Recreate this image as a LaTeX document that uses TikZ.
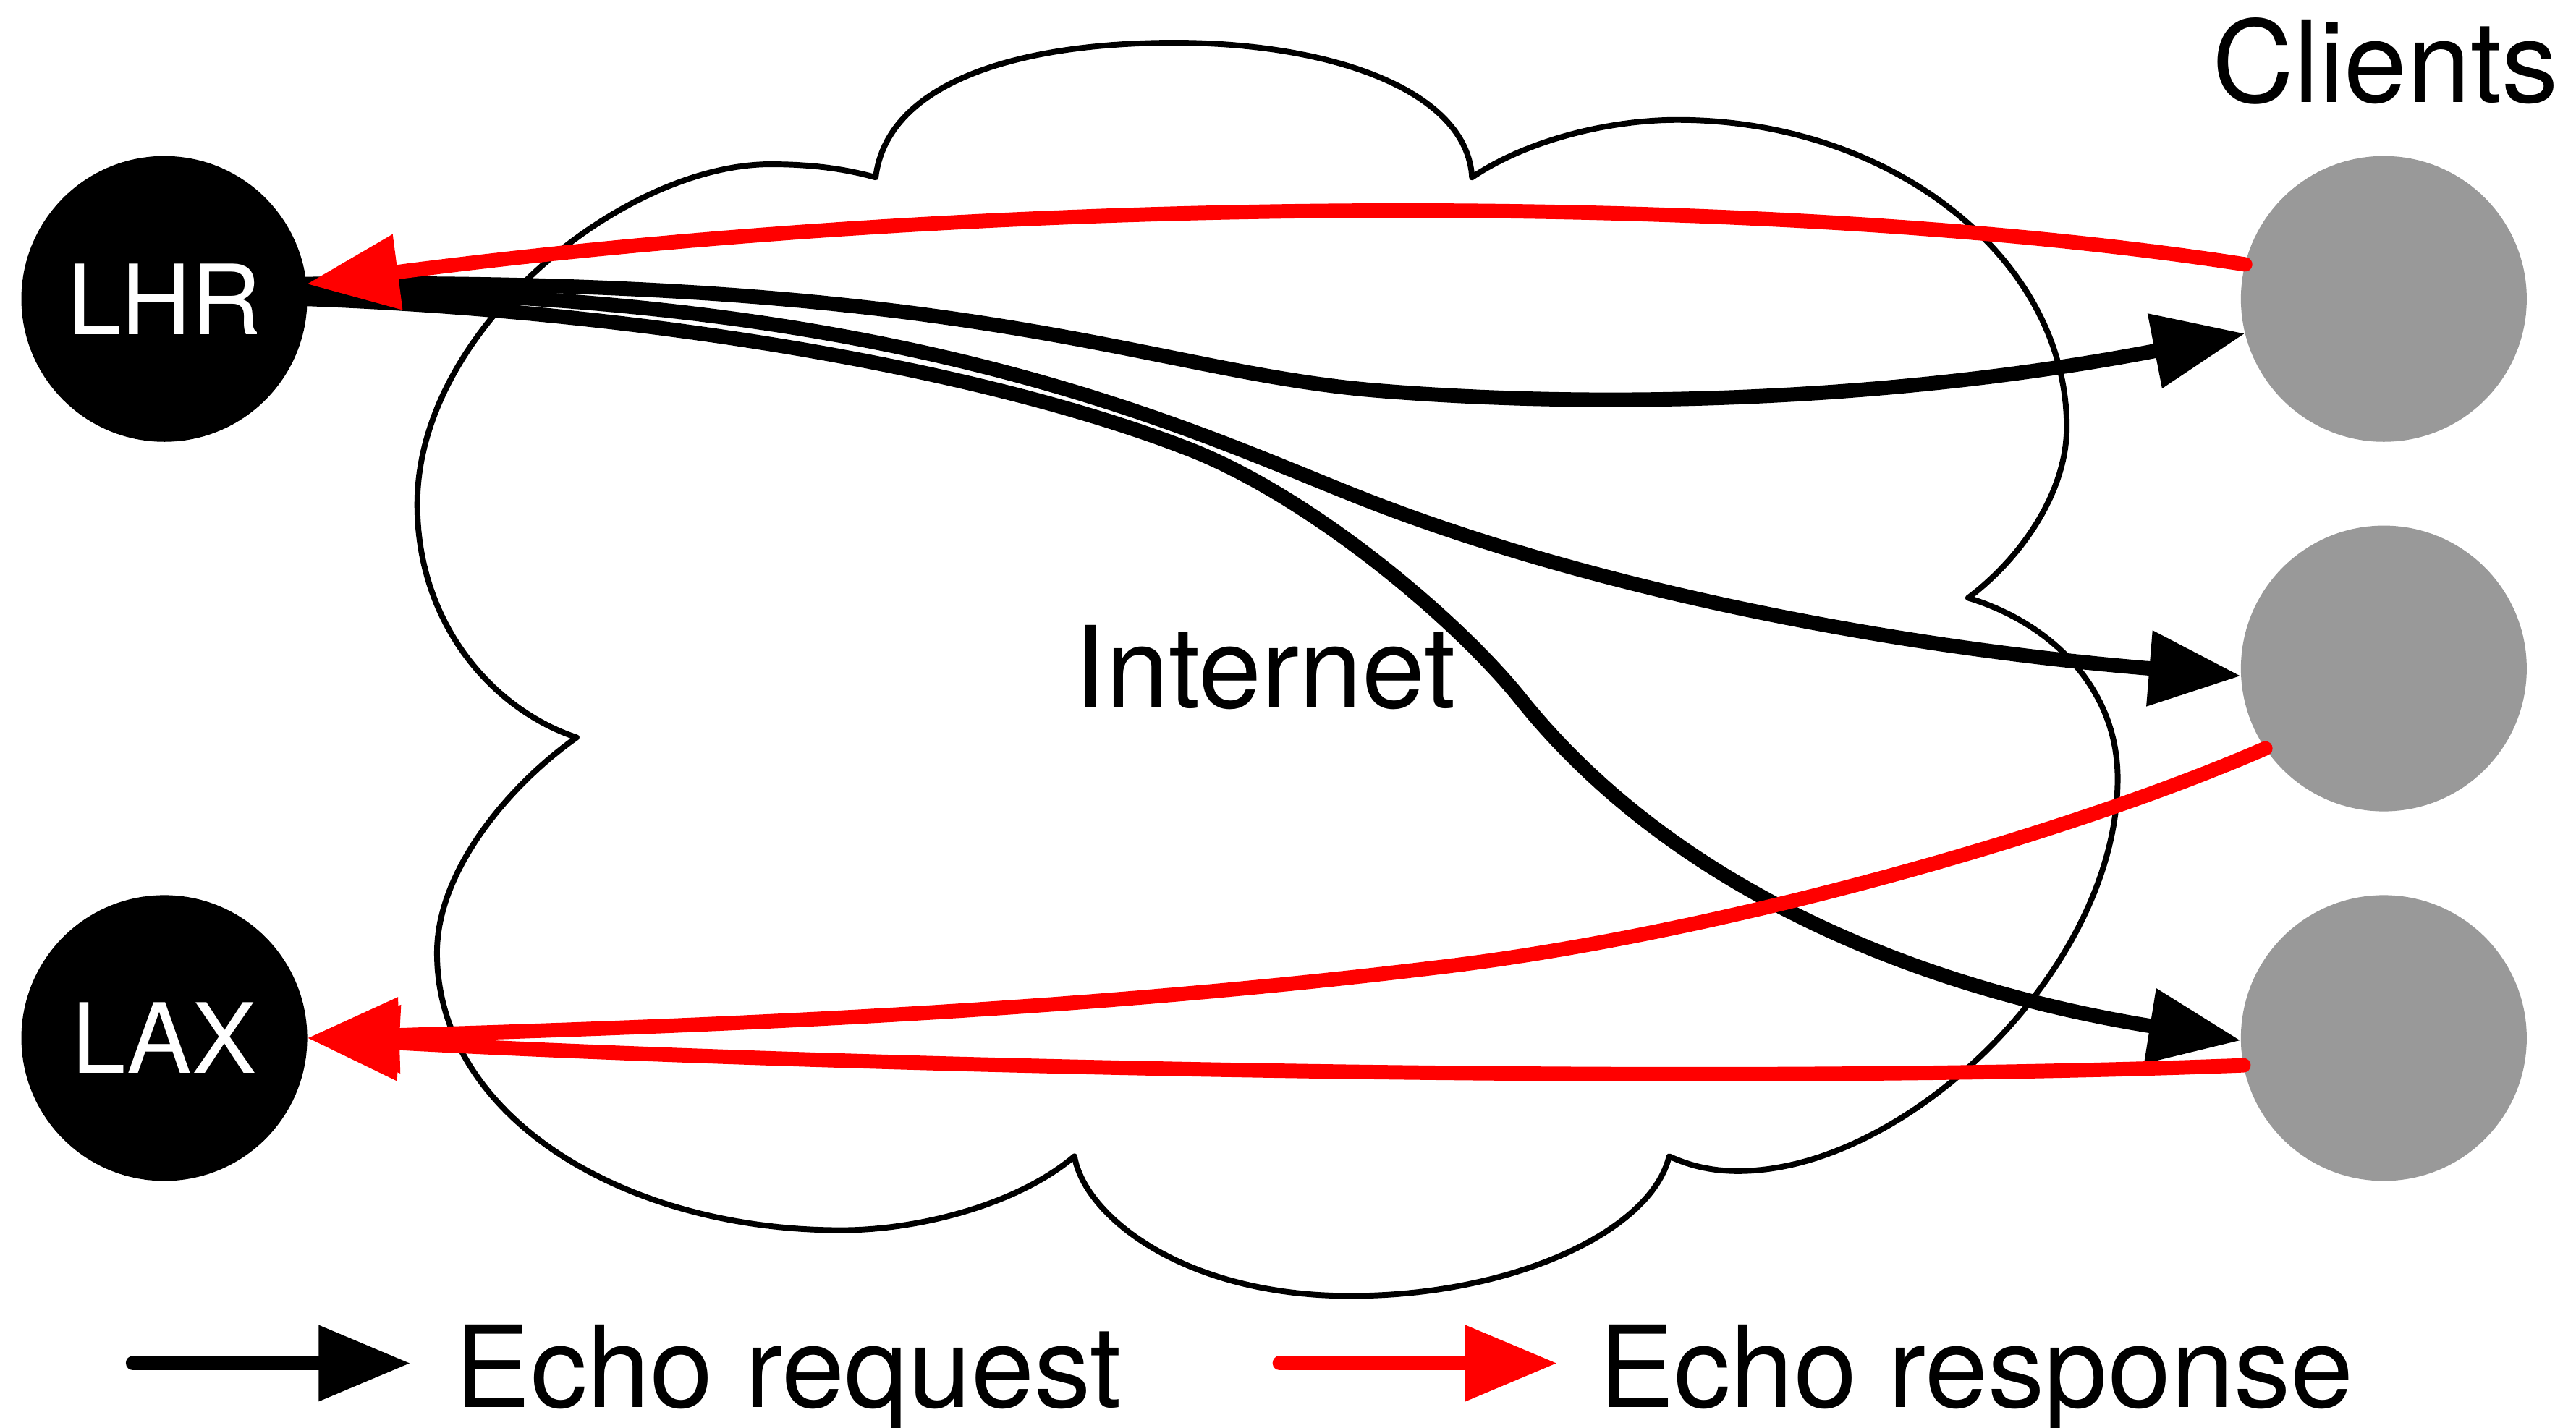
\documentclass[tikz,border=0pt]{standalone}
\usepackage{fontspec}
\setmainfont{TeX Gyre Heros}
\usetikzlibrary{arrows.meta}
\definecolor{clientgrey}{RGB}{153,153,153}
\definecolor{respred}{RGB}{255,0,0}
\begin{document}
\begin{tikzpicture}[x=0.5pt,y=-0.5pt,
  site/.style={circle, fill=black, minimum size=87pt, inner sep=0pt, outer sep=0pt,
    text=white, font=\fontsize{29.5}{31}\selectfont},
  client/.style={circle, fill=clientgrey, minimum size=87pt, inner sep=0pt, outer sep=0pt},
  txt/.style={inner sep=0pt, outer sep=0pt, font=\fontsize{34.5}{40}\selectfont},
  cloudline/.style={line width=1.75pt, line join=round},
  req/.style={line width=4.4pt, line cap=round, line join=round,
    -{Triangle[length=28pt,width=22pt]}},
  resp/.style={req, respred},
]
\useasboundingbox (0,0) rectangle (1568,869);

% cloud
\draw[cloudline] (533,108)
  .. controls (540,50) and (620,26) .. (715,26)
  .. controls (810,26) and (893,55) .. (896,108)
  .. controls (930,85) and (980,73) .. (1021,73)
  .. controls (1151,73) and (1258,157) .. (1258,260)
  .. controls (1258,300) and (1230,340) .. (1198,364)
  .. controls (1250,380) and (1289,420) .. (1289,474)
  .. controls (1289,590) and (1160,713) .. (1058,713)
  .. controls (1040,713) and (1027,709) .. (1016,704)
  .. controls (1005,750) and (920,789) .. (822,789)
  .. controls (720,789) and (660,740) .. (654,704)
  .. controls (620,733) and (560,749) .. (512,749)
  .. controls (380,749) and (266,680) .. (266,580)
  .. controls (266,530) and (310,478) .. (351,449)
  .. controls (300,432) and (254,380) .. (254,307)
  .. controls (254,200) and (380,100) .. (469,100)
  .. controls (495,100) and (515,103) .. (533,108) -- cycle;

% nodes
\node[site] (lhr) at (100,182) {LHR};
\node[site] (lax) at (100,632) {LAX};
\node[client] (c1) at (1451,182) {};
\node[client] (c2) at (1451,407) {};
\node[client] (c3) at (1451,632) {};
\node[txt, anchor=base] (clients) at (1452,62.5) {Clients};
\node[txt, anchor=base] (internet) at (770,431) {Internet};

% bend points of the connectors
\coordinate (q1) at (841,238);
\coordinate (q2) at (833,305);
\coordinate (q3a) at (720,272);
\coordinate (q3b) at (926,426);
\coordinate (r2) at (875,589);

% echo requests
\draw[req] (lhr.6) .. controls (600,168) and (700,227) .. (q1)
  .. controls (991,250) and (1165,242) .. (c1.194);
\draw[req] (lhr.3) .. controls (560,178) and (730,265) .. (q2)
  .. controls (980,362) and (1163,395) .. (c2.183);
\draw[req] (lhr.0) .. controls (400,190) and (600,226) .. (q3a)
  .. controls (795,300) and (886,376) .. (q3b)
  .. controls (1016,538) and (1162,601) .. (c3.181);

% echo responses
\draw[resp] (c1.166) .. controls (1069,115) and (606,118) .. (lhr.6);
\draw[resp] (c2.214) .. controls (1259,508) and (1045,569) .. (r2)
  .. controls (645,617) and (417,625) .. (lax.0);
\draw[resp] (c3.191) .. controls (1018,662) and (487,648) .. (lax.0);

% legend
\coordinate (k1s) at (81,830);
\coordinate (k1e) at (250,830);
\draw[req] (k1s) -- (k1e);
\node[txt, anchor=base west] (kreq) at (277,857) {Echo request};
\coordinate (k2s) at (779,830);
\coordinate (k2e) at (948,830);
\draw[resp] (k2s) -- (k2e);
\node[txt, anchor=base west] (kresp) at (973,857) {Echo response};
\end{tikzpicture}
\end{document}
